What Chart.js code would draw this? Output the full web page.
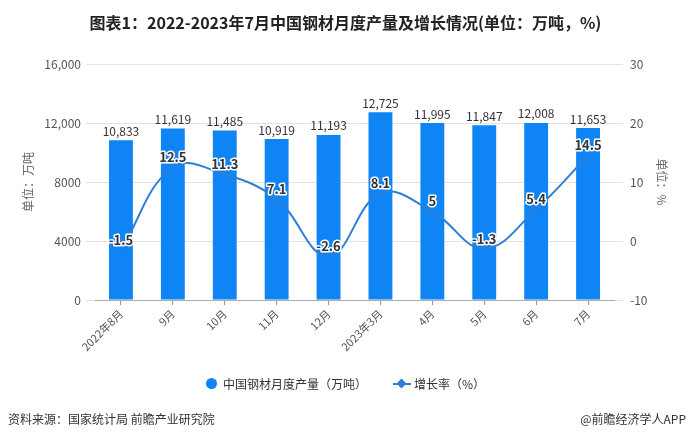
<!DOCTYPE html>
<html>
<head>
<meta charset="utf-8">
<script src="https://cdn.jsdelivr.net/npm/chart.js@4"></script>
<style>
  body { margin: 0; width: 691px; height: 440px; background: #fff; position: relative; overflow: hidden;
         font-family: "Noto Sans CJK SC", "Noto Sans", sans-serif; }
  #wrap { position: absolute; left: 0; top: 0; width: 691px; height: 440px; }
  .title { position: absolute; top: 10px; left: 0; width: 691px; text-align: center;
           font-size: 16px; font-weight: bold; color: #222; line-height: 24px; }
  .legend { position: absolute; top: 373px; left: 0; width: 691px; text-align: center;
            font-size: 12px; color: #333; line-height: 18px; }
  .legend span { display: inline-block; vertical-align: middle; }
  .dot { width: 11px; height: 11px; border-radius: 50%; background: #0f85f5; margin-right: 6px; }
  .lsym { position: relative; width: 18px; height: 10px; margin: 0 3px 0 26px; }
  .lsym:before { content: ""; position: absolute; left: 0; top: 4px; width: 18px; height: 2px; background: #2e7fd6; }
  .lsym:after { content: ""; position: absolute; left: 5px; top: 1px; width: 7px; height: 7px; background: #2e7fd6; transform: rotate(45deg); }
  .src { position: absolute; top: 410px; left: 8px; font-size: 12px; color: #333; line-height: 18px; }
  .app { position: absolute; top: 410px; right: 5px; font-size: 12px; color: #333; line-height: 18px; }
</style>
</head>
<body>
<div id="wrap"><canvas id="steelChart" width="691" height="440"></canvas></div>
<div class="title">图表1：2022-2023年7月中国钢材月度产量及增长情况(单位：万吨，%)</div>
<div class="legend"><span class="dot"></span><span>中国钢材月度产量（万吨）</span><span class="lsym"></span><span>增长率（%）</span></div>
<div class="src">资料来源：国家统计局 前瞻产业研究院</div>
<div class="app">@前瞻经济学人APP</div>
<script>
// months and values
const months = ['2022年8月', '9月', '10月', '11月', '12月', '2023年3月', '4月', '5月', '6月', '7月'];
const output = [10833, 11619, 11485, 10919, 11193, 12725, 11995, 11847, 12008, 11653];  // 万吨
const growth = [-1.5, 12.5, 11.3, 7.1, -2.6, 8.1, 5, -1.3, 5.4, 14.5];  // %
const leftTicks = [0, 4000, 8000, 12000, 16000];
const rightTicks = [-10, 0, 10, 20, 30];

const fontFamily = '"Noto Sans CJK SC", "Noto Sans", sans-serif';

// draws the value labels over bars and line points
const valueLabels = {
    id: 'valueLabels',
    afterDatasetsDraw(chart) {
        const ctx = chart.ctx;
        ctx.save();
        ctx.textAlign = 'center';
        ctx.textBaseline = 'middle';

        const bars = chart.getDatasetMeta(0);
        ctx.font = '12px ' + fontFamily;
        ctx.fillStyle = '#333';
        bars.data.forEach((el, i) => {
            ctx.fillText(output[i].toLocaleString('en-US'), el.x, el.y - 9);
        });

        const line = chart.getDatasetMeta(1);
        ctx.font = '600 13px ' + fontFamily;
        ctx.lineWidth = 3;
        ctx.strokeStyle = '#fff';
        ctx.lineJoin = 'round';
        line.data.forEach((el, i) => {
            const txt = String(growth[i]);
            ctx.strokeText(txt, el.x, el.y - 10);
            ctx.fillStyle = '#333';
            ctx.fillText(txt, el.x, el.y - 10);
        });
        ctx.restore();
    }
};

const ctx = document.getElementById('steelChart').getContext('2d');
const steelChart = new Chart(ctx, {
    type: 'bar',
    data: {
        labels: months,
        datasets: [{
            label: '中国钢材月度产量（万吨）',
            data: output,
            backgroundColor: '#0f85f5',
            yAxisID: 'y',
            barPercentage: 0.92,
            categoryPercentage: 0.5,
            order: 2
        }, {
            type: 'line',
            label: '增长率（%）',
            data: growth,
            borderColor: '#2e7fd6',
            borderWidth: 2,
            pointRadius: 0,
            tension: 0.4,
            yAxisID: 'y1',
            order: 1
        }]
    },
    options: {
        responsive: false,
        animation: false,
        layout: { padding: { top: 64, left: 0, right: 0, bottom: 0 } },
        plugins: {
            legend: { display: false },
            tooltip: { enabled: false }
        },
        scales: {
            x: {
                afterFit: (s) => { s.height = 140; },
                grid: { display: true, drawOnChartArea: false, drawTicks: true, tickLength: 5, color: '#999', offset: false },
                border: { display: true, color: '#aaa' },
                ticks: {
                    minRotation: 45, maxRotation: 45, autoSkip: false, padding: 2,
                    color: '#555', font: { size: 11, family: fontFamily }
                }
            },
            y: {
                position: 'left',
                min: 0, max: 16000,
                afterFit: (s) => { s.width = 95; },
                afterBuildTicks: (s) => { s.ticks = leftTicks.map(v => ({ value: v })); },
                grid: { color: '#e3e3e3', tickLength: 9 },
                border: { display: false },
                ticks: {
                    padding: 5, color: '#555', font: { size: 12, family: fontFamily },
                    callback: (v) => v >= 10000 ? v.toLocaleString('en-US') : String(v)
                },
                title: { display: true, text: '单位：万吨', color: '#666', padding: { top: 21, bottom: 0 },
                         font: { size: 12, family: fontFamily } }
            },
            y1: {
                position: 'right',
                min: -10, max: 30,
                afterFit: (s) => { s.width = 77; },
                afterBuildTicks: (s) => { s.ticks = rightTicks.map(v => ({ value: v })); },
                grid: { drawOnChartArea: false, color: '#e3e3e3', tickLength: 9 },
                border: { display: false },
                ticks: { padding: 7, color: '#555', font: { size: 12, family: fontFamily } },
                title: { display: true, text: '单位：%', color: '#666', padding: { top: 22, bottom: 0 },
                         font: { size: 12, family: fontFamily } }
            }
        }
    },
    plugins: [valueLabels]
});
</script>
</body>
</html>
